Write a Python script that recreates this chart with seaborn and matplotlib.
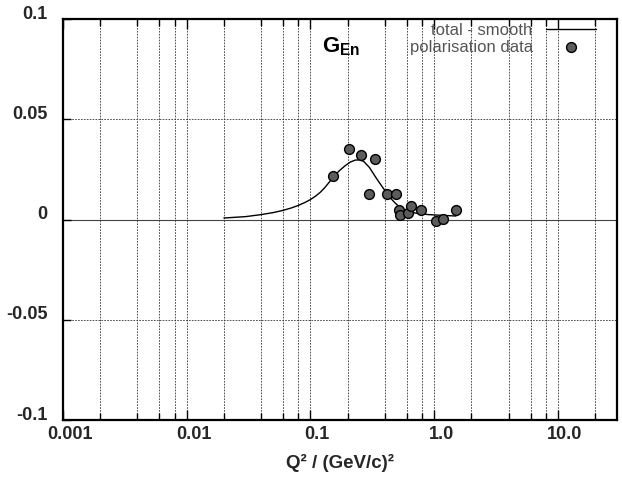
import matplotlib
matplotlib.use("Agg")
import matplotlib.pyplot as plt
from matplotlib.ticker import FixedLocator, FixedFormatter, NullFormatter
from matplotlib.transforms import ScaledTranslation
import seaborn as sns

# Smooth total curve (Q^2 in (GeV/c)^2, G_En)
curve_q2 = [0.02, 0.03, 0.04, 0.05, 0.06, 0.07, 0.08, 0.09, 0.10, 0.11, 0.12,
            0.13, 0.14, 0.15, 0.17, 0.19, 0.21, 0.23, 0.25, 0.27, 0.30, 0.33,
            0.36, 0.40, 0.44, 0.48, 0.52, 0.58, 0.65, 0.75, 0.90, 1.10, 1.50]
curve_gen = [0.0008, 0.0015, 0.0025, 0.0035, 0.0046, 0.0058, 0.0071, 0.0085, 0.0100, 0.0117, 0.0136,
             0.0158, 0.0182, 0.0205, 0.0242, 0.0268, 0.0287, 0.0297, 0.0298, 0.0290, 0.0260, 0.0220,
             0.0185, 0.0145, 0.0110, 0.0085, 0.0065, 0.0048, 0.0037, 0.0030, 0.0025, 0.0022, 0.0018]

# Polarisation measurements
data_q2 = [0.153, 0.205, 0.256, 0.296, 0.331, 0.413, 0.488, 0.515, 0.534,
           0.62, 0.655, 0.786, 1.04, 1.18, 1.50]
data_gen = [0.022, 0.035, 0.032, 0.013, 0.030, 0.013, 0.013, 0.005, 0.0025,
            0.0035, 0.007, 0.005, -0.0005, 0.0005, 0.005]

x_major = [0.001, 0.01, 0.1, 1.0, 10.0]
x_major_labels = ["0.001", "0.01", "0.1", "1.0", "10.0"]
y_ticks = [-0.1, -0.05, 0.0, 0.05, 0.1]
y_labels = ["-0.1", "-0.05", "0", "0.05", "0.1"]

sns.set_theme(style="ticks")
plt.rcParams["font.family"] = ["Liberation Sans", "DejaVu Sans"]
plt.rcParams["mathtext.fontset"] = "custom"
plt.rcParams["mathtext.rm"] = "Liberation Sans"
plt.rcParams["mathtext.bf"] = "Liberation Sans:bold"

fig = plt.figure(figsize=(6.22, 4.79), dpi=100)
ax = fig.add_axes([0.101, 0.123, 0.891, 0.837])

ax.set_xscale("log")
ax.set_xlim(0.001, 30)
ax.set_ylim(-0.1, 0.1)

# grid: every 2,4,6,8,10 per decade on x, every 0.05 on y
minor = [m * d for d in [0.001, 0.01, 0.1, 1.0, 10.0] for m in (2, 4, 6, 8) if m * d < 30]
ax.xaxis.set_major_locator(FixedLocator(x_major))
ax.xaxis.set_major_formatter(FixedFormatter(x_major_labels))
ax.xaxis.set_minor_locator(FixedLocator(minor))
ax.xaxis.set_minor_formatter(NullFormatter())
ax.set_yticks(y_ticks)
ax.set_yticklabels(y_labels)

grid_style = dict(color="#333333", lw=0.6, ls=(0, (2.0, 1.5)))
for xv in x_major[1:] + minor:
    ax.axvline(xv, zorder=0, **grid_style)
for yv in (-0.05, 0.05):
    ax.axhline(yv, zorder=0, **grid_style)
ax.axhline(0.0, color="#444444", lw=0.8, zorder=0)

ax.tick_params(axis="both", which="both", direction="in", top=True, right=False,
               labelsize=13, width=1.0, color="black")
ax.tick_params(axis="x", which="major", length=7, pad=4)
ax.tick_params(axis="x", which="minor", length=5)
ax.tick_params(axis="y", which="major", length=6, pad=11)
for lab in ax.get_xticklabels() + ax.get_yticklabels():
    lab.set_fontweight("bold")
for lab in ax.get_yticklabels():
    lab.set_transform(lab.get_transform() + ScaledTranslation(0, 5 / 72, fig.dpi_scale_trans))
for lab in ax.get_xticklabels():
    lab.set_transform(lab.get_transform() + ScaledTranslation(5 / 72, 0, fig.dpi_scale_trans))

for side in ax.spines.values():
    side.set_linewidth(1.6)
    side.set_color("black")

sns.lineplot(x=curve_q2, y=curve_gen, ax=ax, color="black", lw=1.0,
             estimator=None, sort=False, label="total - smooth", zorder=3)
sns.scatterplot(x=data_q2, y=data_gen, ax=ax, s=50, marker="o",
                facecolor="#5c5c5c", edgecolor="black", linewidth=1.0,
                label="polarisation data", zorder=4)

ax.set_xlabel("Q² / (GeV/c)²", fontsize=13.5, fontweight="bold", labelpad=8)
ax.set_ylabel("")

ax.text(0.468, 0.918, r"$\mathbf{G}_{\mathbf{En}}$", transform=ax.transAxes,
        fontsize=16, ha="left", va="baseline", color="black")

leg = ax.legend(loc="upper right", bbox_to_anchor=(0.962, 0.99), frameon=False,
                markerfirst=False, fontsize=12, handlelength=3.0, handletextpad=0.8,
                labelspacing=0.1, borderpad=0.0, borderaxespad=0.0)
for t in leg.get_texts():
    t.set_color("#555555")

fig.savefig("out.png", dpi=100)
